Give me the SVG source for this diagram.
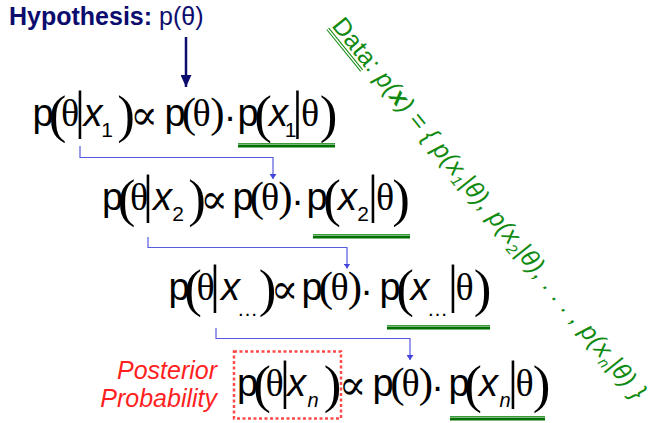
<svg xmlns="http://www.w3.org/2000/svg" width="652" height="423" viewBox="0 0 652 423">
<style>
text{text-anchor:middle}
.p{font-family:"Liberation Sans",Arial,sans-serif;font-size:38px;fill:#000}
.pb{font-family:"Liberation Serif","Times New Roman",serif;font-size:53px;fill:#000}
.ps{font-family:"Liberation Serif","Times New Roman",serif;font-size:43px;fill:#000}
.th{font-family:"Liberation Serif","Times New Roman",serif;font-size:38px;fill:#000}
.bar{font-family:"Liberation Serif","Times New Roman",serif;font-size:52px;fill:#000}
.xi{font-family:"Liberation Sans",Arial,sans-serif;font-size:38px;font-style:italic;fill:#000}
.sub{font-family:"Liberation Sans",Arial,sans-serif;font-size:21px;fill:#000}
.subi{font-family:"Liberation Sans",Arial,sans-serif;font-size:20px;font-style:italic;fill:#000}
.prop{font-family:"DejaVu Serif","DejaVu Sans",serif;font-size:41px;fill:#000}
.ul1{stroke:#3c9c3c;stroke-width:1}
.ul2{stroke:#007000;stroke-width:3}
.conn{fill:none;stroke:#5a5ae0;stroke-width:1.2}
.hyp{font-family:"Liberation Sans",Arial,sans-serif;font-size:25px;fill:#0c0c6e;text-anchor:start}
.post{font-family:"Liberation Sans",Arial,sans-serif;font-size:25px;font-style:italic;fill:#ff1f1f;text-anchor:end}
.data{font-family:"Liberation Sans",Arial,sans-serif;font-size:25px;fill:#108a10;text-anchor:start;letter-spacing:0.3px}
</style>
<defs>
<marker id="ab" viewBox="0 0 10 10" refX="10" refY="5" markerWidth="5" markerHeight="7" markerUnits="userSpaceOnUse" orient="auto" preserveAspectRatio="none">
<path d="M0,0 L10,5 L0,10 z" fill="#4444dd"/>
</marker>
<marker id="an" viewBox="0 0 10 10" refX="10" refY="5" markerWidth="12" markerHeight="11" markerUnits="userSpaceOnUse" orient="auto" preserveAspectRatio="none">
<path d="M0,0 L10,5 L0,10 z" fill="#0c0c6e"/>
</marker>
</defs>

<g id="hypothesis">
<text class="hyp" x="9" y="25"><tspan font-weight="bold">Hypothesis:</tspan> p(θ)</text>
</g>

<g id="row1">
<text class="p" x="43" y="126">p</text>
<text class="pb" x="57.5" y="132">(</text>
<text class="th" x="70" y="126">θ</text>
<text class="bar" x="80" y="128">|</text>
<text class="xi" x="93" y="126">x</text>
<text class="sub" x="107" y="137">1</text>
<text class="pb" x="126" y="132">)</text>
<text class="prop" x="144" y="128.5">∝</text>
<text class="p" x="175" y="126">p</text>
<text class="ps" x="189" y="127">(</text>
<text class="th" x="201.5" y="126">θ</text>
<text class="ps" x="217.5" y="127">)</text>
<text class="p" x="230" y="130">·</text>
<text class="p" x="248" y="126">p</text>
<text class="pb" x="263" y="132">(</text>
<text class="xi" x="278.5" y="126">x</text>
<text class="sub" x="290.5" y="137">1</text>
<text class="bar" x="297.5" y="128">|</text>
<text class="th" x="310" y="126">θ</text>
<text class="pb" x="328.5" y="132">)</text>
<line class="ul1" x1="238" y1="143.5" x2="335" y2="143.5"/>
<line class="ul2" x1="238" y1="146" x2="335" y2="146"/>
</g>

<g id="row2">
<text class="p" x="112.5" y="210">p</text>
<text class="pb" x="126.5" y="216">(</text>
<text class="th" x="139" y="210">θ</text>
<text class="bar" x="148" y="212">|</text>
<text class="xi" x="162.5" y="210">x</text>
<text class="sub" x="178" y="221">2</text>
<text class="pb" x="197" y="216">)</text>
<text class="prop" x="214" y="212.5">∝</text>
<text class="p" x="243" y="210">p</text>
<text class="ps" x="257" y="211">(</text>
<text class="th" x="270" y="210">θ</text>
<text class="ps" x="285.5" y="211">)</text>
<text class="p" x="297.5" y="214">·</text>
<text class="p" x="317" y="210">p</text>
<text class="pb" x="332" y="216">(</text>
<text class="xi" x="347.5" y="210">x</text>
<text class="sub" x="363" y="221">2</text>
<text class="bar" x="373" y="212">|</text>
<text class="th" x="385" y="210">θ</text>
<text class="pb" x="401" y="216">)</text>
<line class="ul1" x1="313" y1="234.5" x2="410" y2="234.5"/>
<line class="ul2" x1="313" y1="237" x2="410" y2="237"/>
</g>

<g id="row3">
<text class="p" x="179" y="300">p</text>
<text class="pb" x="193" y="306">(</text>
<text class="th" x="205.5" y="300">θ</text>
<text class="bar" x="215" y="302">|</text>
<text class="xi" x="230.5" y="300">x</text>
<text class="sub" x="247.5" y="316">…</text>
<text class="pb" x="267.5" y="306">)</text>
<text class="prop" x="284.5" y="302.5">∝</text>
<text class="p" x="312" y="300">p</text>
<text class="ps" x="326" y="301">(</text>
<text class="th" x="339.5" y="300">θ</text>
<text class="ps" x="355" y="301">)</text>
<text class="p" x="366.5" y="304">·</text>
<text class="p" x="390" y="300">p</text>
<text class="pb" x="405" y="306">(</text>
<text class="xi" x="420" y="300">x</text>
<text class="sub" x="437.5" y="316">…</text>
<text class="bar" x="453" y="302">|</text>
<text class="th" x="464.5" y="300">θ</text>
<text class="pb" x="482.5" y="306">)</text>
<line class="ul1" x1="387" y1="325.5" x2="490" y2="325.5"/>
<line class="ul2" x1="387" y1="328" x2="490" y2="328"/>
</g>

<g id="row4">
<text class="p" x="247.5" y="396">p</text>
<text class="pb" x="262" y="402">(</text>
<text class="th" x="274.5" y="396">θ</text>
<text class="bar" x="285" y="398">|</text>
<text class="xi" x="296.5" y="396">x</text>
<text class="subi" x="313" y="407">n</text>
<text class="pb" x="332.5" y="402">)</text>
<text class="prop" x="352.5" y="398.5">∝</text>
<text class="p" x="383" y="396">p</text>
<text class="ps" x="397.5" y="397">(</text>
<text class="th" x="410.5" y="396">θ</text>
<text class="ps" x="426" y="397">)</text>
<text class="p" x="437.5" y="400">·</text>
<text class="p" x="459" y="396">p</text>
<text class="pb" x="473" y="402">(</text>
<text class="xi" x="488.5" y="396">x</text>
<text class="subi" x="505" y="407">n</text>
<text class="bar" x="513" y="398">|</text>
<text class="th" x="524.5" y="396">θ</text>
<text class="pb" x="541.5" y="402">)</text>
<line class="ul1" x1="450" y1="416.5" x2="545" y2="416.5"/>
<line class="ul2" x1="450" y1="419" x2="545" y2="419"/>
</g>

<g id="posterior">
<rect x="234" y="351.5" width="107" height="67" fill="none" stroke="#ff4a4a" stroke-width="2.5" stroke-dasharray="3 2.5"/>
<text class="post" x="217" y="379">Posterior</text>
<text class="post" x="217" y="407">Probability</text>
</g>

<g id="data" transform="translate(331,26) rotate(51)">
<text class="data" x="0" y="0">Data: <tspan font-style="italic">p(</tspan><tspan font-weight="bold" font-style="italic">x</tspan><tspan font-style="italic">) = { p(x</tspan><tspan font-style="italic" font-size="15" dy="5">1</tspan><tspan font-style="italic" dy="-5">|θ), p(x</tspan><tspan font-style="italic" font-size="15" dy="5">2</tspan><tspan font-style="italic" dy="-5">|θ),  .  .  .  , p(x</tspan><tspan font-style="italic" font-size="15" dy="5">n</tspan><tspan font-style="italic" dy="-5">|θ) }</tspan></text>
<line x1="0" y1="3" x2="54" y2="3" stroke="#108a10" stroke-width="1"/>
<line x1="0" y1="5.5" x2="54" y2="5.5" stroke="#108a10" stroke-width="1"/>
</g>

<g id="connectors">
<line x1="186" y1="37" x2="186" y2="87" stroke="#0c0c6e" stroke-width="2.5" marker-end="url(#an)"/>
<path class="conn" d="M80,146 V157.5 H273 V179" marker-end="url(#ab)"/>
<path class="conn" d="M148,237 V247.5 H347 V268.5" marker-end="url(#ab)"/>
<path class="conn" d="M216,328 V338.5 H410 V360" marker-end="url(#ab)"/>
</g>
</svg>
